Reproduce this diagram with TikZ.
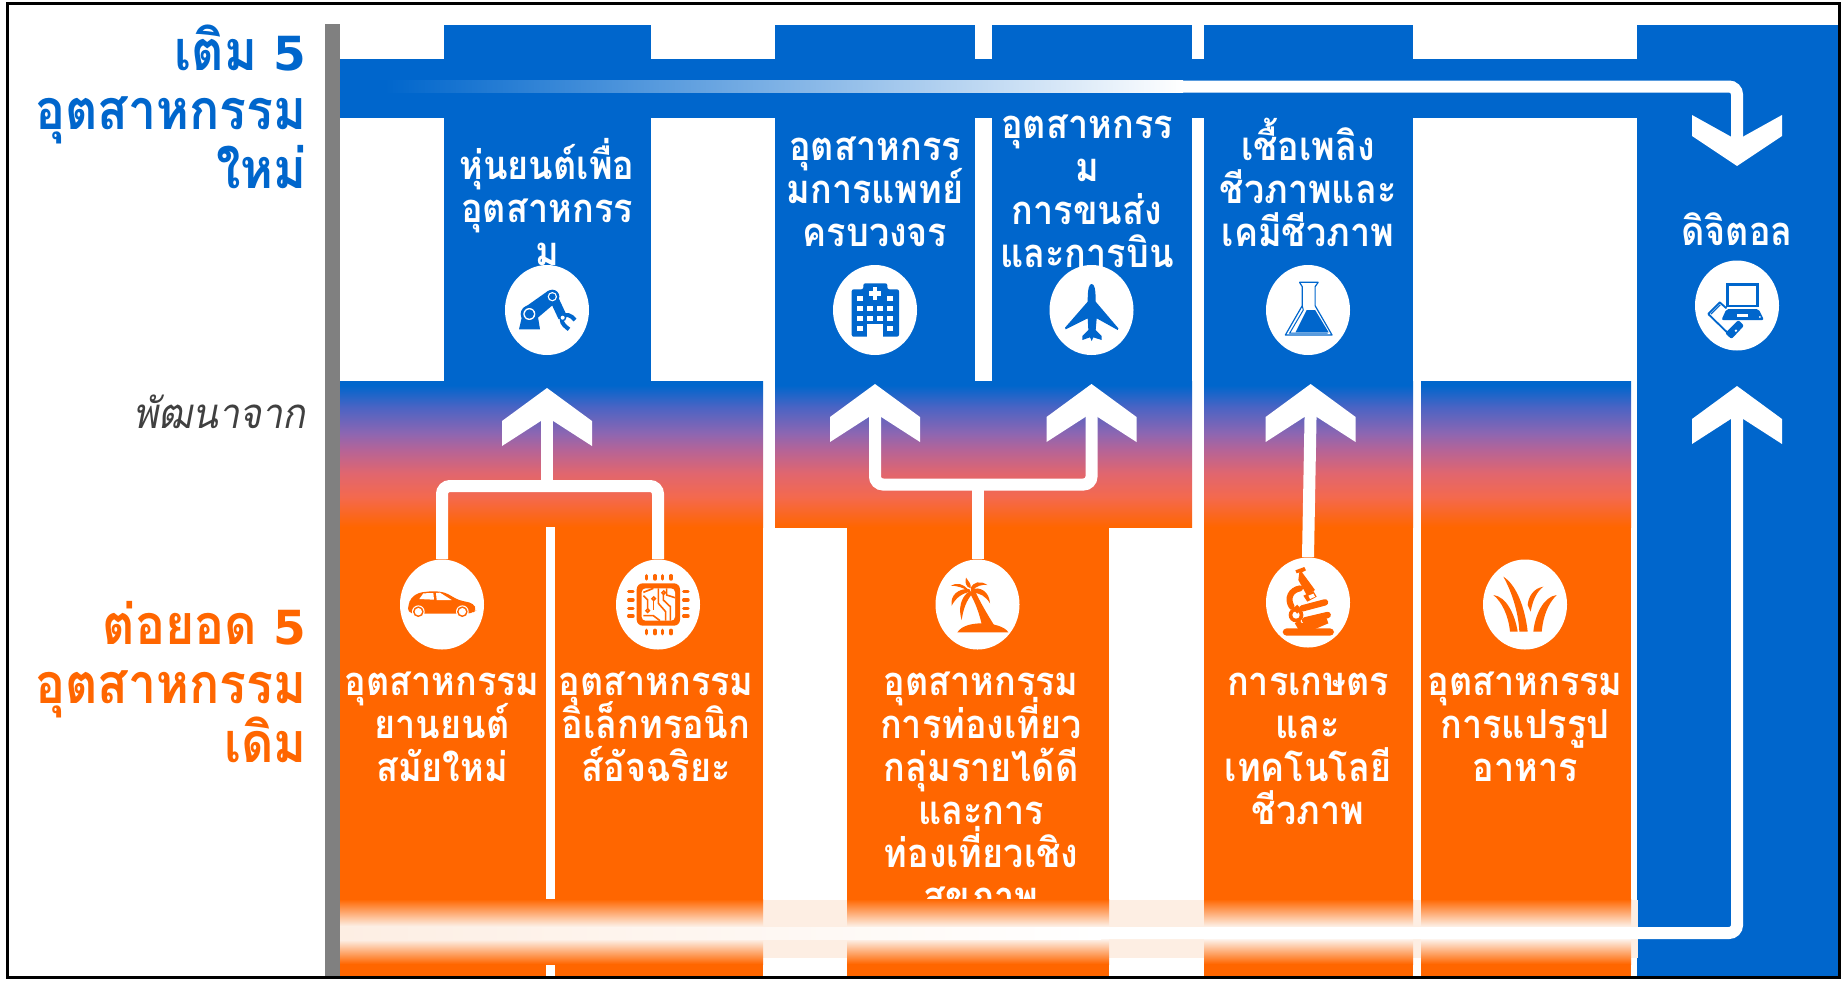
\documentclass[tikz,border=0pt]{standalone}
\usepackage{fontspec}
\usetikzlibrary{shapes.geometric}
\newfontfamily\thaifont[Script=Thai,FakeStretch=0.9]{Loma}
\newfontfamily\numfont{DejaVu Sans}
\definecolor{bluemain}{HTML}{0066CC}
\definecolor{orangemain}{HTML}{FF6600}
\definecolor{palepeach}{HTML}{FDEEE3}
\definecolor{nearwhite}{HTML}{FDF3EC}
\lineskiplimit=-100pt
\normallineskiplimit=-100pt
\pgfdeclareverticalshading{blueorange}{100bp}{%
  color(0bp)=(orangemain); color(25bp)=(orangemain);
  color(35.3bp)=(rgb,255:red,244;green,105;blue,78);
  color(43.5bp)=(rgb,255:red,224;green,102;blue,111);
  color(51.4bp)=(rgb,255:red,181;green,100;blue,151);
  color(57.2bp)=(rgb,255:red,140;green,102;blue,178);
  color(66.1bp)=(rgb,255:red,74;green,100;blue,196);
  color(73.5bp)=(bluemain); color(100bp)=(bluemain)}
\tikzset{
  x=0.5pt,y=-0.5pt,
  gradbox/.style={shading=blueorange,draw=none},
  colbox/.style={fill=bluemain,draw=none},
  orbox/.style={fill=orangemain,draw=none},
  link/.style={draw=white,line width=6pt,rounded corners=4pt},
  badge/.style={ellipse,fill=white,draw=none,inner sep=0pt,minimum width=42pt,minimum height=45pt},
  whitelabel/.style={text=white,align=center,anchor=base,inner sep=0pt,
     font=\thaifont\bfseries\fontsize{20}{21.5}\selectfont},
  headline/.style={align=right,anchor=base east,inner sep=0pt,
     font=\thaifont\bfseries\fontsize{27.8}{29.5}\selectfont},
}
\newcommand{\upchevron}[2]{\fill[white] (#1,#2) -- ++(45,33) -- ++(0,25) -- ++(-45,-29) -- ++(-45,29) -- ++(0,-25) -- cycle;}
\newcommand{\five}{{\numfont\fontsize{23.5}{29.5}\selectfont 5}}
\begin{document}
\begin{tikzpicture}
\useasboundingbox (0,0) rectangle (1845,981);
\fill[white] (0,0) rectangle (1845,981);
% grey axis
\fill[gray] (325,24) rectangle (340,977);
% blue columns
\path[colbox] (444,25) rectangle (651,382);
\path[colbox] (775,25) rectangle (975,382);
\path[colbox] (992,25) rectangle (1192,382);
\path[colbox] (1204,25) rectangle (1413,382);
\path[colbox] (1637,25) rectangle (1838,977);
\path[colbox] (340,59) rectangle (1838,118);
% gradient bands
\path[gradbox] (340,381) rectangle (763,527);
\path[gradbox] (775,381) rectangle (1192,527);
\path[gradbox] (1204,381) rectangle (1413,527);
\path[gradbox] (1421,381) rectangle (1631,527);
% orange columns
\path[orbox] (340,527) rectangle (763,977);
\path[orbox] (847,527) rectangle (1109,977);
\path[orbox] (1204,527) rectangle (1413,977);
\path[orbox] (1421,527) rectangle (1631,977);
\fill[white] (546,527) rectangle (555,977);
% labels
\node[headline,text=bluemain] (hnew) at (307,188) {เติม \five\\อุตสาหกรรม\\ใหม่};
\node[headline,text=orangemain] (hold) at (307,762) {ต่อยอด \five\\อุตสาหกรรม\\เดิม};
\node[anchor=base east,inner sep=0pt,text=black!75,font=\thaifont\itshape\fontsize{21}{24}\selectfont] (hfrom) at (306,428) {พัฒนาจาก};
\node[whitelabel] (trobot) at (547,265) {หุ่นยนต์เพื่อ\\อุตสาหกรร\\ม};
\node[whitelabel] (tmed) at (875,246) {อุตสาหกรร\\มการแพทย์\\ครบวงจร};
\node[whitelabel] (tair) at (1087,267) {อุตสาหกรร\\ม\\การขนส่ง\\และการบิน};
\node[whitelabel] (tbio) at (1308,246) {เชื้อเพลิง\\ชีวภาพและ\\เคมีชีวภาพ};
\node[whitelabel] (tdig) at (1737,245) {ดิจิตอล};
\node[whitelabel] (tcar) at (442,781) {อุตสาหกรรม\\ยานยนต์\\สมัยใหม่};
\node[whitelabel] (tchip) at (656,781) {อุตสาหกรรม\\อิเล็กทรอนิก\\ส์อัจฉริยะ};
\node[whitelabel] (ttour) at (981,910) {อุตสาหกรรม\\การท่องเที่ยว\\กลุ่มรายได้ดี\\และการ\\ท่องเที่ยวเชิง\\สุขภาพ};
\node[whitelabel] (tagri) at (1308,824) {การเกษตร\\และ\\เทคโนโลยี\\ชีวภาพ};
\node[whitelabel] (tfood) at (1525,781) {อุตสาหกรรม\\การแปรรูป\\อาหาร};
% badges
\node[badge] (robot) at (547,310) {};
\node[badge] (hosp) at (875,310) {};
\node[badge] (plane) at (1091.5,310) {};
\node[badge] (flask) at (1308,310) {};
\node[badge] (digi) at (1737,305.5) {};
\node[badge] (car) at (442,604.5) {};
\node[badge] (chip) at (658,604.5) {};
\node[badge] (palm) at (977.5,604.5) {};
\node[badge] (micro) at (1308,602.5) {};
\node[badge] (grass) at (1525,604.5) {};
% fade band
\fill[palepeach] (763,900) rectangle (847,958);
\fill[palepeach] (1109,900) rectangle (1204,958);
\fill[palepeach] (1413,900) rectangle (1421,958);
\fill[palepeach] (1630,900) rectangle (1638,958);
\foreach \a/\b in {340/763,847/1109,1204/1413,1421/1631}{
  \shade[top color=orangemain,bottom color=nearwhite] (\a,899) rectangle (\b,927);
  \shade[top color=nearwhite,bottom color=orangemain] (\a,939) rectangle (\b,964);
  \fill[nearwhite] (\a,927) rectangle (\b,939);
}
% connectors
\coordinate (tipA) at (547,417);
\coordinate (tipB) at (875,413);
\coordinate (tipC) at (1091.5,413);
\coordinate (tipD) at (1310.6,413);
\coordinate (tipE) at (1737,415);
\coordinate (tipF) at (1737,140);
\coordinate (fadeOut) at (1182,86.5);
\coordinate (fadeMid) at (1100,933);
\coordinate (junA) at (547,486);
\coordinate (junB) at (977.5,484.5);
\draw[link] (car.north) |- (junA) -| (chip.north);
\draw[link] (junA) -- (tipA);
\draw[link] (hosp.center |- tipB) |- (junB) -| (plane.center |- tipC);
\draw[link] (palm.north) -- (junB);
\draw[link] (micro.north) -- (tipD);
\draw[link] (fadeOut) -| (tipF);
\shade[left color=bluemain,right color=white] (385,80.5) rectangle (1183,92.5);
\draw[link] (fadeMid) -| (tipE);
\shade[left color=palepeach,right color=white] (340,927) rectangle (1101,939);
% chevrons
\upchevron{547}{388}
\upchevron{875}{384}
\upchevron{1091.5}{384}
\upchevron{1310.6}{384}
\upchevron{1737}{386}
\fill[white] (1692,115) -- (1737,140) -- (1782,115) -- (1782,136) -- (1737,166) -- (1692,136) -- cycle;
% icon: robot
\begin{scope}[shift={(495,260)},x=0.16667pt,y=-0.16667pt]
\fill[bluemain] (72,208) -- (82,165) -- (128,165) -- (135,208) -- cycle;
\fill[bluemain] (92,140) -- (160,92) -- (185,125) -- (118,182) -- cycle;
\draw[bluemain,line width=4.5pt] (175,112) -- (203,172);
\fill[bluemain] (103,162) circle [radius=26];
\fill[white] (103,162) circle [radius=18];
\fill[bluemain] (103,162) circle [radius=14];
\fill[bluemain] (172,110) circle [radius=21];
\fill[white] (172,110) circle [radius=14];
\fill[bluemain] (172,110) circle [radius=10];
\draw[bluemain,line width=2pt] (200,173) .. controls (212,158) and (228,165) .. (240,180);
\draw[bluemain,line width=2pt] (200,178) .. controls (200,192) and (212,200) .. (222,208);
\fill[bluemain] (203,173) circle [radius=11];
\fill[white] (203,173) circle [radius=6];
\end{scope}
% icon: hospital
\begin{scope}[shift={(825,260)},x=0.16667pt,y=-0.16667pt]
\fill[bluemain,rounded corners=1pt] (80,88) -- (115,88) -- (115,70) -- (187,70) -- (187,88) -- (222,88) -- (222,230) -- (80,230) -- cycle;
\fill[white] (143,82) rectangle (157,120);
\fill[white] (132,94) rectangle (168,108);
\foreach \wx/\wy in {97/107,187/107,97/137,127/137,157/137,187/137,97/167,127/167,157/167,187/167,97/197,187/197}{
 \fill[white] (\wx,\wy) rectangle ++(18,15);}
\fill[white] (127,192) rectangle (175,230);
% icon: plane
\fill[bluemain] (800,72) .. controls (792,72) and (788,85) .. (788,125) -- (720,203) -- (722,208) -- (788,175) -- (790,210) -- (772,228) -- (772,240) -- (795,232) -- (800,243) -- (805,232) -- (830,240) -- (830,228) -- (812,210) -- (815,175) -- (878,210) -- (880,205) -- (812,125) .. controls (812,85) and (808,72) .. (800,72) -- cycle;
\end{scope}
% icon: flask and devices
\begin{scope}[shift={(1260,255)},x=0.169pt,y=-0.16667pt]
\draw[bluemain,line width=0.6pt,line join=round] (117,82) -- (172,82) -- (163,95) -- (163,152) -- (213,240) -- (75,240) -- (125,152) -- (125,95) -- cycle;
\draw[bluemain,line width=0.5pt] (125,152) -- (128,165) -- (88,234) -- (200,234);
\fill[bluemain] (138,165) -- (163,165) -- (203,232) -- (105,232) -- cycle;
\fill[bluemain] (1380,83) rectangle (1476,157);
\fill[white] (1388,92) rectangle (1468,150);
\fill[bluemain,rounded corners=1pt] (1380,162) -- (1475,162) -- (1491,195) -- (1365,195) -- cycle;
\fill[white] (1411,178) rectangle (1445,186);
\fill[white] (1479,186) circle [radius=3];
\draw[bluemain,line width=0.9pt,line join=round] (1326,177) -- (1360,142) -- (1380,160);
\draw[bluemain,line width=0.9pt,line join=round] (1326,177) -- (1390,240);
\draw[bluemain,line width=0.6pt] (1334,177) -- (1362,149);
\fill[bluemain,rounded corners=1pt] (1415,195) -- (1432,212) -- (1395,252) -- (1376,235) -- cycle;
\fill[white] (1408,227) circle [radius=4];
\end{scope}
% icons: car and chip
\begin{scope}[shift={(395,555)},x=0.16667pt,y=-0.16667pt]
\fill[orangemain,rounded corners=2pt] (38,172) -- (40,150) -- (47,130) -- (70,113) -- (115,108) -- (150,112) -- (190,135) -- (235,145) -- (245,165) -- (235,172) -- (218,176) -- (60,176) -- cycle;
\fill[white] (73,132) -- (85,115) -- (115,114) -- (117,134) -- cycle;
\fill[white] (123,114) -- (135,113) -- (170,135) -- (125,135) -- cycle;
\foreach \wx in {70,202}{
 \fill[white] (\wx,170) circle [radius=19];
 \fill[orangemain] (\wx,170) circle [radius=16];
 \fill[white] (\wx,170) circle [radius=11];}
\fill[orangemain,rounded corners=3pt] (725,85) rectangle (855,212);
\fill[white,rounded corners=2pt] (740,100) rectangle (840,197);
\foreach \px in {755,780,803,828}{
 \draw[orangemain,line width=1.7pt,line cap=round] (\px,62) -- (\px,72);
 \draw[orangemain,line width=1.7pt,line cap=round] (\px,226) -- (\px,236);}
\foreach \py in {110,135,160,183}{
 \draw[orangemain,line width=1.7pt,line cap=round] (701,\py) -- (714,\py);
 \draw[orangemain,line width=1.7pt,line cap=round] (866,\py) -- (879,\py);}
\draw[orangemain,line width=0.8pt] (745,112) -- (775,100);
\draw[orangemain,line width=0.8pt] (758,165) -- (758,135) -- (745,122);
\draw[orangemain,line width=0.8pt] (776,132) -- (776,165);
\draw[orangemain,line width=0.8pt] (790,100) -- (790,145) -- (812,170) -- (812,197);
\draw[orangemain,line width=0.8pt] (805,115) -- (805,135) -- (826,155) -- (826,197);
\draw[orangemain,line width=0.8pt] (815,100) -- (815,120) -- (840,128);
\draw[orangemain,line width=0.8pt] (745,182) -- (775,182) -- (795,197);
\draw[orangemain,line width=0.8pt,fill=white] (758,167) circle [radius=5];
\draw[orangemain,line width=0.8pt,fill=white] (776,131) circle [radius=5];
\draw[orangemain,line width=0.8pt,fill=white] (806,113) circle [radius=5];
\end{scope}
% icon: palm
\begin{scope}[shift={(930,555)},x=0.16667pt,y=-0.16667pt]
\fill[orangemain] (82,232) .. controls (95,212) and (125,205) .. (155,205) .. controls (190,205) and (225,215) .. (235,232) -- cycle;
\fill[orangemain] (118,112) .. controls (135,140) and (148,175) .. (155,208) -- (192,210) .. controls (170,175) and (150,140) .. (135,108) -- cycle;
\fill[orangemain] (118,108) .. controls (100,85) and (80,82) .. (62,92) .. controls (85,92) and (100,100) .. (118,108) -- cycle;
\fill[orangemain] (122,100) .. controls (105,95) and (105,80) .. (108,68) .. controls (115,78) and (125,88) .. (122,100) -- cycle;
\fill[orangemain] (118,102) .. controls (85,100) and (60,120) .. (65,152) .. controls (78,128) and (95,115) .. (122,110) -- cycle;
\fill[orangemain] (120,108) .. controls (90,125) and (85,165) .. (95,195) .. controls (100,160) and (110,135) .. (128,115) -- cycle;
\fill[orangemain] (122,98) .. controls (130,82) and (150,75) .. (172,90) .. controls (155,88) and (140,92) .. (125,108) -- cycle;
\fill[orangemain] (122,104) .. controls (150,92) and (178,110) .. (180,145) .. controls (168,125) and (150,112) .. (125,114) -- cycle;
\end{scope}
% icons: microscope and grass
\begin{scope}[shift={(1260,555)},x=0.16667pt,y=-0.16667pt]
\fill[orangemain,rounded corners=2pt] (68,220) rectangle (222,242);
\fill[orangemain] (106,46) -- (133,36) -- (138,46) -- (126,52) -- (132,60) -- (165,105) -- (140,120) -- (115,75) -- (118,52) -- (110,55) -- cycle;
\draw[orangemain,line width=3pt,line cap=round] (120,100) .. controls (92,105) and (80,130) .. (95,155);
\fill[orangemain] (108,180) circle [radius=22];
\fill[white] (108,180) circle [radius=11];
\draw[orangemain,line width=3pt] (105,155) -- (118,170);
\draw[orangemain,line width=3pt] (112,200) -- (125,222);
\fill[orangemain] (130,122) -- (160,108) -- (170,125) -- (142,140) -- cycle;
\fill[white] (145,122) -- (160,116) -- (165,125) -- (150,132) -- cycle;
\draw[orangemain,line width=3.2pt,line cap=round] (127,160) -- (195,142);
\draw[orangemain,line width=3.2pt,line cap=round] (135,196) -- (203,180);
\fill[orangemain] (125,205) -- (200,190) -- (205,205) -- (165,222) -- (125,222) -- cycle;
\fill[orangemain] (700,120) .. controls (740,125) and (765,180) .. (773,230) -- (750,230) .. controls (745,180) and (725,140) .. (700,120) -- cycle;
\fill[orangemain] (730,65) .. controls (770,90) and (795,160) .. (803,230) -- (778,230) .. controls (775,170) and (755,110) .. (730,65) -- cycle;
\fill[orangemain] (850,95) .. controls (820,100) and (805,125) .. (803,150) -- (812,170) .. controls (818,135) and (830,110) .. (850,95) -- cycle;
\fill[orangemain] (890,120) .. controls (850,125) and (825,180) .. (820,230) -- (845,230) .. controls (850,180) and (865,145) .. (890,120) -- cycle;
\end{scope}
% frame
\draw[black,line width=1.5pt] (7,3) rectangle (1839,977);
\end{tikzpicture}
\end{document}
